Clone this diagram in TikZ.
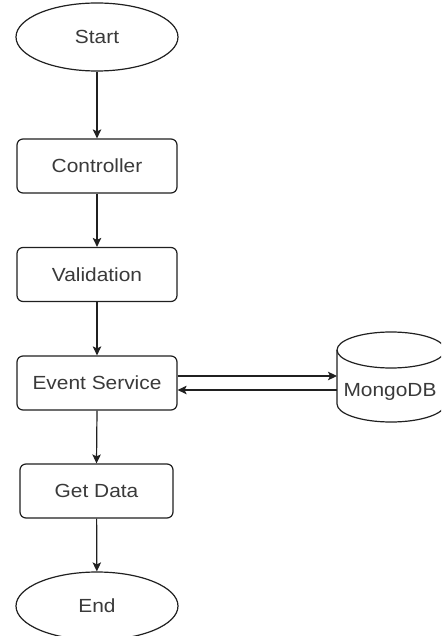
\documentclass[tikz,border=0pt]{standalone}
\usepackage{fontspec}
\setmainfont[FakeStretch=1.1]{Liberation Sans}
\usetikzlibrary{arrows.meta,shapes.geometric}
\definecolor{ink}{HTML}{202020}
\definecolor{label}{HTML}{3A3A3A}
\tikzset{
  x=1pt, y=-1pt,
  every node/.style={text=label, font=\fontsize{19}{22}\selectfont},
  terminal/.style={ellipse, draw=ink, line width=1.2pt, minimum width=162pt, minimum height=68pt, inner sep=0pt},
  stepbox/.style={rectangle, rounded corners=6pt, draw=ink, line width=1.2pt, minimum width=160pt, minimum height=54pt, inner sep=0pt},
  flow/.style={draw=ink, line width=1.2pt, -{Stealth[length=9pt,width=8.5pt,inset=2pt]}},
  dbline/.style={draw=ink, line width=1.2pt},
}
\begin{document}
\begin{tikzpicture}
\useasboundingbox (0,0) rectangle (441,636);
\clip (0,0) rectangle (441,636);
\fill[white] (0,0) rectangle (441,636);

% flow steps
\node[terminal] (start) at (97,37) {Start};
\node[stepbox] (ctrl) at (97,166) {Controller};
\node[stepbox] (valid) at (97,274.5) {Validation};
\node[stepbox] (evsvc) at (97,383) {Event Service};
\node[stepbox, minimum width=153pt] (getdata) at (96.5,491) {Get Data};
\node[terminal] (end) at (97,606) {End};

% database cylinder (y axis points down, so the lower rim runs 180 -> 0)
\draw[dbline] (337,350) -- (337,404) arc[start angle=180, end angle=0, x radius=54, y radius=18] -- (445,350);
\draw[dbline] (391,350) ellipse[x radius=54, y radius=18];
\node (db) at (390,392) {MongoDB};
\coordinate (dbin) at (337,376);
\coordinate (dbout) at (337,390);

% connectors
\draw[flow] (start) -- (ctrl);
\draw[flow] (ctrl) -- (valid);
\draw[flow] (valid) -- (evsvc);
\draw[flow] (evsvc.south) -- (getdata.north);
\draw[flow] (getdata) -- (end);
\draw[flow] (evsvc.east |- dbin) -- (dbin);
\draw[flow] (dbout) -- (evsvc.east |- dbout);
\end{tikzpicture}
\end{document}
